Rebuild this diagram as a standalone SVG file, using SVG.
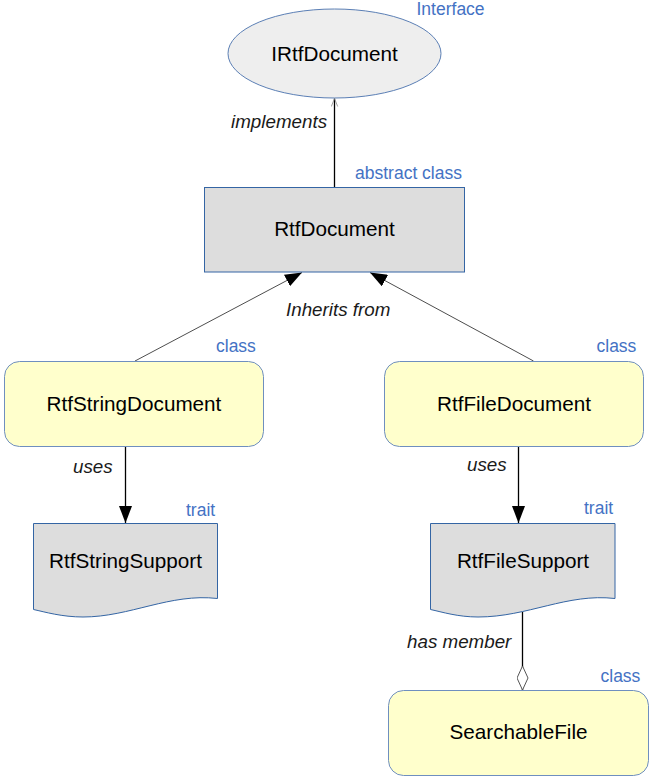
<svg xmlns="http://www.w3.org/2000/svg" width="650" height="780" viewBox="0 0 650 780">
  <defs>
    <style>
      .name { font-family: "Liberation Sans", Arial, sans-serif; font-size: 20.7px; fill: #000; text-anchor: middle; }
      .kind { font-family: "Liberation Sans", Arial, sans-serif; font-size: 17.5px; fill: #4472c4; }
      .rel  { font-family: "Liberation Sans", Arial, sans-serif; font-size: 18.8px; font-style: italic; fill: #1a1a1a; }
      .cls  { fill: #ffffcc; stroke: #6f8fbf; stroke-width: 1; }
      .trait { fill: #dddddd; stroke: #3465a4; stroke-width: 1; }
      .conn { fill: none; stroke: #000; }
    </style>
    <marker id="open-tri" viewBox="0 0 10 10" refX="10" refY="5" markerWidth="8" markerHeight="8" markerUnits="userSpaceOnUse" orient="auto">
      <path d="M0,1 L10,5 L0,9" fill="none" stroke="#888" stroke-width="1"/>
    </marker>
    <marker id="solid-tri" viewBox="0 0 17 13" refX="17" refY="6.5" markerWidth="17" markerHeight="13" markerUnits="userSpaceOnUse" orient="auto">
      <path d="M0,0 L17,6.5 L0,13 Z" fill="#000"/>
    </marker>
    <marker id="diamond" viewBox="0 0 24 12" refX="24" refY="6" markerWidth="24" markerHeight="12" markerUnits="userSpaceOnUse" orient="auto">
      <path d="M0,6 L12,0.5 L24,6 L12,11.5 Z" fill="#fff" stroke="#555" stroke-width="1"/>
    </marker>
  </defs>

  <!-- connectors -->
  <g id="connectors">
    <line class="conn" x1="334.5" y1="187.5" x2="334.5" y2="98.5" stroke-width="1.3" marker-end="url(#open-tri)"/>
    <line class="conn" x1="135" y1="361" x2="302" y2="272.5" stroke-width="0.7" marker-end="url(#solid-tri)"/>
    <line class="conn" x1="533.5" y1="361" x2="370" y2="272.5" stroke-width="0.7" marker-end="url(#solid-tri)"/>
    <line class="conn" x1="125.5" y1="447" x2="125.5" y2="523" stroke-width="1.3" marker-end="url(#solid-tri)"/>
    <line class="conn" x1="518.5" y1="447" x2="518.5" y2="523" stroke-width="1.3" marker-end="url(#solid-tri)"/>
    <line class="conn" x1="522.5" y1="612" x2="522.5" y2="690" stroke-width="1.3" marker-end="url(#diamond)"/>
    <text class="rel" x="231" y="128">implements</text>
    <text class="rel" x="286" y="316">Inherits from</text>
    <text class="rel" x="73" y="473">uses</text>
    <text class="rel" x="467" y="471">uses</text>
    <text class="rel" x="407" y="648">has member</text>
  </g>

  <g id="IRtfDocument">
    <ellipse cx="334.5" cy="53.5" rx="106.5" ry="44.5" fill="#eeeeee" stroke="#5b7fb5" stroke-width="1"/>
    <text class="name" x="334.5" y="60.5">IRtfDocument</text>
    <text class="kind" x="416.5" y="15">Interface</text>
  </g>

  <g id="RtfDocument">
    <rect x="204.5" y="187.5" width="260" height="84.5" fill="#dddddd" stroke="#3465a4" stroke-width="1"/>
    <text class="name" x="334.5" y="236">RtfDocument</text>
    <text class="kind" x="355" y="179">abstract class</text>
  </g>

  <g id="RtfStringDocument">
    <rect class="cls" x="4.5" y="361.5" width="259" height="85" rx="15" ry="15"/>
    <text class="name" x="134" y="411">RtfStringDocument</text>
    <text class="kind" x="216" y="352">class</text>
  </g>

  <g id="RtfFileDocument">
    <rect class="cls" x="384.5" y="361.5" width="259" height="85" rx="15" ry="15"/>
    <text class="name" x="514" y="411">RtfFileDocument</text>
    <text class="kind" x="596.5" y="352">class</text>
  </g>

  <g id="RtfStringSupport">
    <path class="trait" d="M33.5,523.5 H217.5 V598.5 C170,593 130,617 83,617 C62,617 45,612 33.5,609.5 Z"/>
    <text class="name" x="125.5" y="568">RtfStringSupport</text>
    <text class="kind" x="186" y="516">trait</text>
  </g>

  <g id="RtfFileSupport">
    <path class="trait" d="M430.5,523.5 H615 V598.5 C567,593 528,617 478,617 C458,617 442,612 430.5,609.5 Z"/>
    <text class="name" x="523" y="568">RtfFileSupport</text>
    <text class="kind" x="584" y="514">trait</text>
  </g>

  <g id="SearchableFile">
    <rect class="cls" x="388.5" y="690.5" width="260" height="85" rx="15" ry="15"/>
    <text class="name" x="518.5" y="739">SearchableFile</text>
    <text class="kind" x="600.5" y="682">class</text>
  </g>
</svg>
